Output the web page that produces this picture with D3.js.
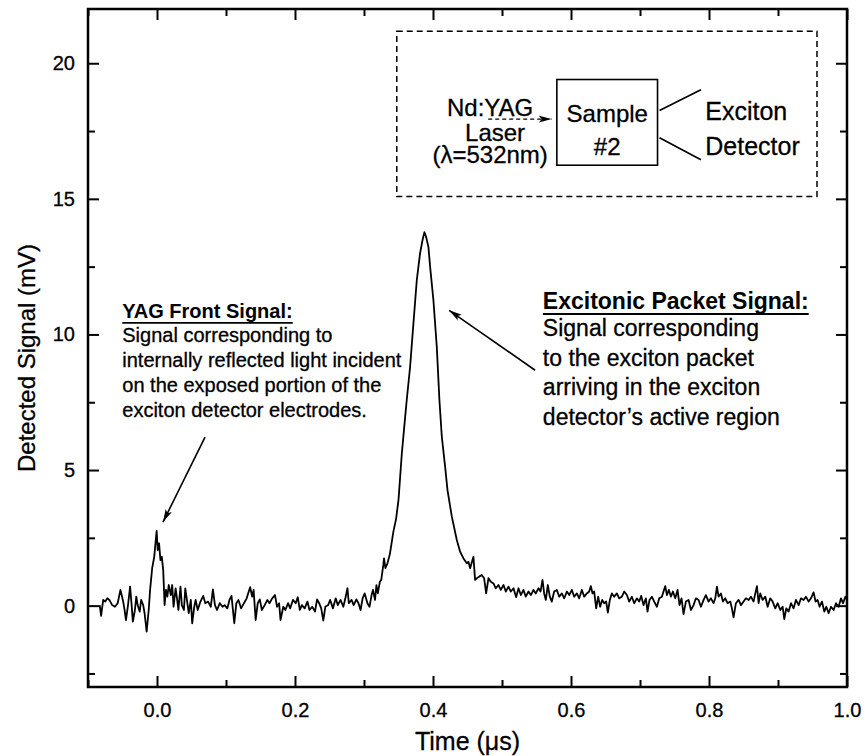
<!DOCTYPE html>
<html>
<head>
<meta charset="utf-8">
<script src="https://cdn.jsdelivr.net/npm/d3@7/dist/d3.min.js"></script>
<style>
  body { margin: 0; background: #fff; }
  text { font-family: "Liberation Sans", Arial, sans-serif; fill: #000; stroke: #000; stroke-width: 0.3px; }
</style>
</head>
<body>
<svg id="main_svg" width="865" height="756"></svg>
<script>
// axis ticks
const xMajorTicks = [0.0, 0.2, 0.4, 0.6, 0.8, 1.0];
const xMinorTicks = [-0.1, 0.1, 0.3, 0.5, 0.7, 0.9];
const yMajorTicks = [0, 5, 10, 15, 20];
const yMinorTicks = [-2.5, 2.5, 7.5, 12.5, 17.5];

// trace: [time (us), signal (mV)]
const baselineEarly = [
  [-0.083, 0.02], [-0.081, -0.38], [-0.078, 0.21], [-0.075, 0.15], [-0.072, 0.27],
  [-0.069, 0.21], [-0.065, 0.02], [-0.061, -0.04], [-0.057, 0.09], [-0.053, 0.58],
  [-0.049, 0.15], [-0.047, -0.16], [-0.045, -0.53], [-0.042, 0.02], [-0.039, 0.70],
  [-0.037, 0.09], [-0.035, -0.59], [-0.032, -0.16], [-0.030, 0.33], [-0.028, 0.02],
  [-0.025, -0.22], [-0.023, 0.21], [-0.020, 0.02], [-0.018, -0.28], [-0.015, -0.96],
  [-0.012, -0.16]
];

const yagSpike = [
  [-0.010, 0.58], [-0.007, 1.38], [-0.004, 1.80], [-0.002, 2.36], [-0.0005, 2.76],
  [0.001, 2.05], [0.003, 2.30], [0.005, 1.68], [0.007, 1.80], [0.009, 1.31], [0.011, 0.02]
];

const baselineMid = [
  [0.013, 0.58], [0.015, 0.33], [0.017, 0.76], [0.020, 0.39], [0.022, 0.76],
  [0.024, -0.04], [0.027, 0.64], [0.029, 0.27], [0.031, -0.16], [0.034, 0.70],
  [0.036, 0.02], [0.039, -0.16], [0.041, 0.64], [0.044, 0.09], [0.046, -0.28],
  [0.049, 0.21], [0.051, -0.65], [0.054, -0.04], [0.056, 0.21], [0.059, -0.16],
  [0.063, 0.15], [0.067, 0.36], [0.070, 0.09], [0.074, 0.15], [0.078, -0.04],
  [0.081, 0.60], [0.084, 0.02], [0.087, -0.16], [0.091, 0.09], [0.095, -0.04],
  [0.098, 0.02], [0.102, -0.10], [0.105, 0.21], [0.108, 0.36], [0.112, -0.65],
  [0.115, 0.09], [0.118, 0.21], [0.122, -0.10], [0.126, 0.09], [0.130, 0.27],
  [0.133, 0.52], [0.135, 0.68], [0.138, 0.33], [0.140, 0.58], [0.143, -0.53],
  [0.146, 0.09], [0.149, 0.23], [0.152, -0.16], [0.156, 0.02], [0.160, 0.21],
  [0.163, 0.09], [0.167, 0.27], [0.171, 0.39], [0.174, -0.04], [0.177, 0.09],
  [0.179, -0.53], [0.183, -0.04], [0.186, -0.16], [0.190, 0.09], [0.193, -0.10],
  [0.197, 0.21], [0.201, 0.09], [0.204, 0.31], [0.207, -0.16], [0.210, 0.02],
  [0.214, -0.10], [0.218, 0.15], [0.221, -0.16], [0.225, -0.04], [0.229, -0.22],
  [0.232, 0.23], [0.235, 0.09], [0.238, -0.10], [0.241, -0.55], [0.244, -0.04],
  [0.248, 0.02], [0.251, 0.21], [0.255, -0.10], [0.259, 0.27], [0.262, 0.02],
  [0.266, 0.21], [0.270, -0.04], [0.273, 0.27], [0.276, 0.64], [0.278, 0.09],
  [0.282, 0.21], [0.285, 0.02], [0.289, 0.23], [0.292, 0.09], [0.295, -0.16],
  [0.298, 0.27], [0.301, 0.45], [0.305, 0.09], [0.308, -0.04], [0.311, 0.39],
  [0.313, 0.58], [0.316, 0.21], [0.318, 0.76], [0.320, 0.45], [0.323, 0.88],
  [0.325, 0.95], [0.328, 1.50], [0.329, 1.74], [0.331, 1.38], [0.334, 1.56]
];

const packetPulse = [
  [0.3375, 1.90], [0.3426, 2.73], [0.3465, 3.20], [0.350, 3.90], [0.3548, 5.60],
  [0.358, 6.50], [0.362, 7.60], [0.3668, 8.80], [0.371, 10.20], [0.3765, 12.00],
  [0.3813, 13.00], [0.385, 13.50], [0.3876, 13.77], [0.390, 13.60], [0.3934, 13.22],
  [0.3958, 12.50], [0.4006, 11.26], [0.4055, 9.54], [0.4093, 7.58], [0.4128, 6.22],
  [0.4176, 5.12], [0.421, 4.26], [0.4273, 3.28], [0.4345, 2.42], [0.4393, 1.99],
  [0.444, 1.75], [0.449, 1.56], [0.4514, 1.62], [0.4538, 1.38], [0.4586, 1.80],
  [0.461, 0.95]
];

const packetTail = [
  [0.4635, 1.01], [0.4669, 1.07], [0.4707, 1.13], [0.4741, 1.01], [0.477, 0.45],
  [0.4804, 1.01], [0.4838, 0.88], [0.4876, 0.82], [0.491, 0.64], [0.4949, 0.76],
  [0.4983, 0.58], [0.5022, 0.76], [0.5055, 0.52], [0.5094, 0.70], [0.5128, 0.52],
  [0.5167, 0.64], [0.5205, 0.31], [0.5239, 0.64], [0.5273, 0.39], [0.5311, 0.58],
  [0.5345, 0.33], [0.5384, 0.52], [0.5418, 0.39], [0.5456, 0.58], [0.549, 0.45],
  [0.5529, 0.64], [0.5558, 0.52], [0.5587, 0.95], [0.5611, 0.45], [0.5635, 0.21],
  [0.5664, 0.76], [0.5693, 0.33], [0.5722, 0.15], [0.5756, 0.52], [0.5795, 0.58],
  [0.5829, 0.33], [0.5867, 0.45], [0.5901, 0.27], [0.594, 0.52], [0.5974, 0.39],
  [0.6012, 0.58], [0.6046, 0.33], [0.6085, 0.45], [0.6119, 0.27], [0.6157, 0.58],
  [0.6191, 0.33], [0.623, 0.45], [0.6264, 0.52], [0.6288, 0.72], [0.6312, 0.45],
  [0.6336, 0.52], [0.6365, -0.10], [0.6394, 0.33], [0.6423, -0.04], [0.6452, 0.21],
  [0.6481, 0.09], [0.651, 0.15], [0.6534, -0.26], [0.6563, 0.21], [0.6592, 0.45],
  [0.6626, 0.33], [0.6665, 0.45], [0.6699, 0.27], [0.6737, 0.33], [0.6771, 0.52],
  [0.681, 0.39], [0.6844, 0.15], [0.6882, 0.33], [0.6916, 0.09], [0.6955, 0.27],
  [0.6989, 0.15], [0.7018, 0.36], [0.7051, 0.02], [0.7085, 0.27], [0.7109, -0.22],
  [0.7138, 0.21], [0.7172, 0.33], [0.7206, 0.15], [0.7245, -0.04], [0.7279, 0.27],
  [0.7317, 0.33], [0.7341, 0.52], [0.7366, 0.72], [0.739, 0.39], [0.7419, 0.58],
  [0.7448, 0.33], [0.7477, 0.52], [0.7511, 0.27], [0.7544, 0.58], [0.7573, 0.02],
  [0.7602, 0.27], [0.7631, -0.31], [0.7665, 0.15], [0.7704, 0.21], [0.7738, -0.16],
  [0.7776, 0.02], [0.781, 0.27], [0.7849, 0.21], [0.7883, -0.04], [0.7922, 0.21],
  [0.7955, 0.39], [0.7994, 0.15], [0.8028, 0.27], [0.8066, 0.09], [0.8091, 0.27],
  [0.8115, 0.70], [0.8139, 0.33], [0.8173, 0.45], [0.8202, 0.15], [0.8236, 0.27],
  [0.8269, 0.09], [0.8308, 0.15], [0.8332, -0.10], [0.8356, -0.43], [0.839, 0.09],
  [0.8429, 0.21], [0.8463, 0.02], [0.8501, 0.15], [0.8535, 0.27], [0.8574, 0.21],
  [0.8608, 0.33], [0.8646, 0.15], [0.8671, 0.45], [0.8695, 0.72], [0.8719, 0.09],
  [0.8743, 0.45], [0.8777, 0.21], [0.8816, 0.33], [0.885, -0.04], [0.8888, 0.27],
  [0.8922, 0.15], [0.8961, -0.10], [0.8995, 0.09], [0.9033, -0.16], [0.9067, -0.04],
  [0.9091, -0.50], [0.912, -0.10], [0.9154, -0.22], [0.9188, 0.09], [0.9226, -0.10],
  [0.926, 0.21], [0.9299, 0.02], [0.9333, 0.27], [0.9371, 0.21], [0.9405, 0.33],
  [0.9444, 0.15], [0.9478, 0.27], [0.9516, 0.49], [0.9545, 0.15], [0.9574, 0.21],
  [0.9603, -0.04], [0.9637, 0.15], [0.9671, -0.22], [0.97, -0.04], [0.9734, -0.28],
  [0.9768, -0.04], [0.9806, -0.16], [0.984, 0.09], [0.9879, -0.04], [0.9913, 0.27],
  [0.9942, 0.09], [0.9976, 0.33], [1.0, 0.21]
];

const trace = [].concat(baselineEarly, yagSpike, baselineMid, packetPulse, packetTail);

// layout
const width = 865;
const height = 756;
const plot = { left: 88, right: 847, top: 9, bottom: 687 };

const x = d3.scaleLinear().domain([-0.1, 1.0]).range([plot.left, plot.right]);
const y = d3.scaleLinear().domain([-3, 22]).range([plot.bottom, plot.top]);

const svg = d3.select('#main_svg');

// arrow heads
const defs = svg.append('defs');
defs.append('marker')
  .attr('id', 'arrow_head')
  .attr('viewBox', '0 -5 13 10')
  .attr('refX', 13)
  .attr('refY', 0)
  .attr('markerWidth', 13)
  .attr('markerHeight', 10)
  .attr('markerUnits', 'userSpaceOnUse')
  .attr('orient', 'auto')
  .append('path')
  .attr('d', 'M0,-3.5L13,0L0,3.5L3,0Z')
  .attr('fill', '#000');

defs.append('clipPath')
  .attr('id', 'plot_clip')
  .append('rect')
  .attr('x', plot.left)
  .attr('y', plot.top)
  .attr('width', plot.right - plot.left)
  .attr('height', plot.bottom - plot.top);

// ticks on all four sides, pointing inward
/////////////////////////////////////
function tickAxis(axis, values, size, labels) {
  return axis
    .tickValues(values)
    .tickSizeInner(-size)
    .tickSizeOuter(0)
    .tickFormat(labels ? d3.format('.1f') : '');
}

const bottomG = svg.append('g').attr('transform', 'translate(0,' + plot.bottom + ')');
bottomG.append('g').call(tickAxis(d3.axisBottom(x), xMinorTicks, 7, false));
bottomG.append('g').call(tickAxis(d3.axisBottom(x), xMajorTicks, 11, true).tickPadding(16));

const topG = svg.append('g').attr('transform', 'translate(0,' + plot.top + ')');
topG.append('g').call(tickAxis(d3.axisTop(x), xMinorTicks, 7, false));
topG.append('g').call(tickAxis(d3.axisTop(x), xMajorTicks, 11, false));

const leftG = svg.append('g').attr('transform', 'translate(' + plot.left + ',0)');
leftG.append('g').call(tickAxis(d3.axisLeft(y), yMinorTicks, 7, false));
leftG.append('g').call(
  d3.axisLeft(y).tickValues(yMajorTicks).tickSizeInner(-11).tickSizeOuter(0)
    .tickPadding(13).tickFormat(d3.format('d'))
);

const rightG = svg.append('g').attr('transform', 'translate(' + plot.right + ',0)');
rightG.append('g').call(tickAxis(d3.axisRight(y), yMinorTicks, 7, false));
rightG.append('g').call(tickAxis(d3.axisRight(y), yMajorTicks, 11, false));

svg.selectAll('.domain').remove();
svg.selectAll('.tick line').attr('stroke', '#000').attr('stroke-width', 2);
svg.selectAll('.tick text')
  .style('font-size', '20px')
  .style('font-family', '"Liberation Sans", Arial, sans-serif')
  .attr('fill', '#000');

// frame
svg.append('rect')
  .attr('x', plot.left)
  .attr('y', plot.top)
  .attr('width', plot.right - plot.left)
  .attr('height', plot.bottom - plot.top)
  .attr('fill', 'none')
  .attr('stroke', '#000')
  .attr('stroke-width', 2.5);

// signal trace
svg.append('path')
  .datum(trace)
  .attr('clip-path', 'url(#plot_clip)')
  .attr('fill', 'none')
  .attr('stroke', '#000')
  .attr('stroke-width', 1.8)
  .attr('stroke-linejoin', 'round')
  .attr('d', d3.line().x(d => x(d[0])).y(d => y(d[1])));

// axis titles
svg.append('text')
  .attr('x', (plot.left + plot.right) / 2)
  .attr('y', 750)
  .attr('text-anchor', 'middle')
  .style('font-size', '25px')
  .text('Time (\u03bcs)');

svg.append('text')
  .attr('transform', 'translate(35,358) rotate(-90)')
  .attr('text-anchor', 'middle')
  .style('font-size', '24px')
  .text('Detected Signal (mV)');

// experiment sketch (inset)
/////////////////////////////////////
svg.append('rect')
  .attr('x', x(0.3475))
  .attr('y', y(21.18))
  .attr('width', x(0.9565) - x(0.3475))
  .attr('height', y(15.09) - y(21.18))
  .attr('fill', 'none')
  .attr('stroke', '#000')
  .attr('stroke-width', 1.5)
  .attr('stroke-dasharray', '6,4');

svg.append('rect')
  .attr('x', x(0.5795))
  .attr('y', y(19.40))
  .attr('width', x(0.7254) - x(0.5795))
  .attr('height', y(16.24) - y(19.40))
  .attr('fill', 'none')
  .attr('stroke', '#000')
  .attr('stroke-width', 1.6);

// detector leads
[[18.26, 19.02], [17.25, 16.44]].forEach(function(v) {
  svg.append('line')
    .attr('x1', x(0.7283)).attr('y1', y(v[0]))
    .attr('x2', x(0.7883)).attr('y2', y(v[1]))
    .attr('stroke', '#000')
    .attr('stroke-width', 1.6);
});

// laser beam
svg.append('line')
  .attr('x1', x(0.4800)).attr('y1', y(17.94))
  .attr('x2', x(0.5720)).attr('y2', y(17.94))
  .attr('stroke', '#000')
  .attr('stroke-width', 1.4)
  .attr('stroke-dasharray', '4,3')
  .attr('marker-end', 'url(#arrow_head)');

const insetText = [
  { t: 0.4828, v: 18.07, anchor: 'middle', text: 'Nd:YAG' },
  { t: 0.4900, v: 17.15, anchor: 'middle', text: 'Laser' },
  { t: 0.4828, v: 16.31, anchor: 'middle', text: '(\u03bb=532nm)' },
  { t: 0.6525, v: 17.83, anchor: 'middle', text: 'Sample' },
  { t: 0.6525, v: 16.60, anchor: 'middle', text: '#2' },
  { t: 0.7946, v: 17.89, anchor: 'start', text: 'Exciton' },
  { t: 0.7946, v: 16.60, anchor: 'start', text: 'Detector' }
];

svg.selectAll('.inset_text')
  .data(insetText)
  .enter()
  .append('text')
  .attr('class', 'inset_text')
  .attr('x', d => x(d.t))
  .attr('y', d => y(d.v))
  .attr('text-anchor', d => d.anchor)
  .style('font-size', d => (d.t > 0.7 ? '25px' : '24px'))
  .text(d => d.text);

// callouts
/////////////////////////////////////
function callout(t, v, size, lineGap, title, lines) {
  const g = svg.append('g');
  const head = g.append('text')
    .attr('x', x(t))
    .attr('y', y(v))
    .style('font-size', size + 'px')
    .style('font-weight', 'bold')
    .style('stroke-width', 0)
    .text(title);
  const w = head.node().getComputedTextLength();
  g.append('line')
    .attr('x1', x(t)).attr('x2', x(t) + w)
    .attr('y1', y(v) + 4.5).attr('y2', y(v) + 4.5)
    .attr('stroke', '#000')
    .attr('stroke-width', 1.8);
  lines.forEach(function(line, i) {
    g.append('text')
      .attr('x', x(t))
      .attr('y', y(v) + lineGap[0] + i * lineGap[1])
      .style('font-size', size + 'px')
      .text(line);
  });
}

callout(-0.0503, 10.59, 20, [23.4, 25.1], 'YAG Front Signal:', [
  'Signal corresponding to',
  'internally reflected light incident',
  'on the exposed portion of the',
  'exciton detector electrodes.'
]);

callout(0.5592, 10.92, 23, [26.4, 29.7], 'Excitonic Packet Signal:', [
  'Signal corresponding',
  'to the exciton packet',
  'arriving in the exciton',
  'detector\u2019s active region'
]);

// arrows pointing at the two features
[[0.0696, 6.21, 0.0087, 3.08], [0.548, 8.68, 0.4234, 10.89]].forEach(function(a) {
  svg.append('line')
    .attr('x1', x(a[0])).attr('y1', y(a[1]))
    .attr('x2', x(a[2])).attr('y2', y(a[3]))
    .attr('stroke', '#000')
    .attr('stroke-width', 1.6)
    .attr('marker-end', 'url(#arrow_head)');
});
</script>
</body>
</html>
